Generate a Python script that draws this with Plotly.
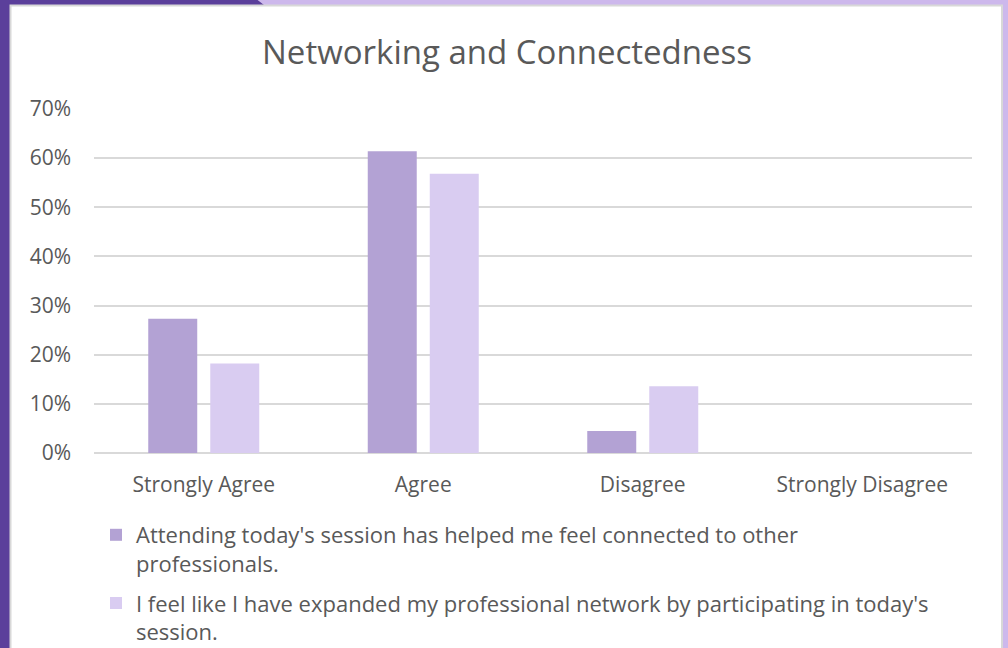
import plotly.graph_objects as go

categories = ["Strongly Agree", "Agree", "Disagree", "Strongly Disagree"]
series_names = [
    "Attending today's session has helped me feel connected to other<br>professionals.",
    "I feel like I have expanded my professional network by participating in today's<br>session.",
]
connected = [27.3, 61.4, 4.5, 0]
expanded = [18.2, 56.8, 13.6, 0]
y_ticks = [0, 10, 20, 30, 40, 50, 60, 70]
y_tick_labels = ["0%", "10%", "20%", "30%", "40%", "50%", "60%", "70%"]

colors = ["#b3a2d4", "#d9ccf1"]
W, H = 1008, 648
L, R, T, B = 94, 972, 109, 453

def px(x):
    return (x - L) / (R - L)

def py(y):
    return (B - y) / (B - T)

fig = go.Figure()
for i, (name, vals, c) in enumerate(zip(series_names, [connected, expanded], colors)):
    fig.add_trace(go.Bar(x=categories, y=vals, name=name, legendgroup=f"g{i}",
                         marker=dict(color=c, line=dict(width=0))))

shapes = [
    dict(type="path", xref="paper", yref="paper",
         path=f"M {px(255)},{py(-2)} L {px(1012)},{py(-2)} L {px(1012)},{py(652)} L {px(990)},{py(652)} L {px(264)},{py(5)} Z",
         fillcolor="#cdb8ec", line=dict(width=0), layer="below"),
    dict(type="rect", xref="paper", yref="paper",
         x0=px(10.5), x1=px(1002), y0=py(5.5), y1=py(660),
         fillcolor="white", line=dict(color="#d8d8d8", width=2), layer="below"),
]

fig.update_layout(
    width=W, height=H,
    paper_bgcolor="#5b3f9b",
    plot_bgcolor="rgba(0,0,0,0)",
    margin=dict(l=L, r=W - R, t=T, b=H - B, pad=0, autoexpand=False),
    shapes=shapes,
    barmode="group",
    bargap=0.435,
    bargroupgap=0.21,
    font=dict(family="Open Sans, sans-serif", color="#595959"),
    title=dict(text="Networking and Connectedness", x=507 / W, xref="container", xanchor="center",
               y=1 - 52 / H, yanchor="middle", yref="container",
               font=dict(size=33, color="#595959")),
    xaxis=dict(showgrid=False, showline=False, ticks="", tickfont=dict(size=21),
               ticklabelstandoff=17, automargin=False),
    yaxis=dict(range=[0, 70], tickvals=y_ticks, ticktext=y_tick_labels,
               showgrid=True, gridcolor="#d9d9d9", gridwidth=2,
               zeroline=True, zerolinecolor="#d9d9d9", zerolinewidth=2,
               showline=False, ticks="", tickfont=dict(size=21), ticklabelstandoff=22,
               automargin=False),
    legend=dict(orientation="v", x=px(96), y=py(514), xanchor="left", yanchor="top",
                font=dict(size=22, color="#595959"), valign="top",
                itemwidth=30, tracegroupgap=8, bgcolor="rgba(0,0,0,0)"),
    showlegend=True,
)

fig.write_html("out.html", config={"displayModeBar": False},
               post_script="document.body.style.margin='0';")
